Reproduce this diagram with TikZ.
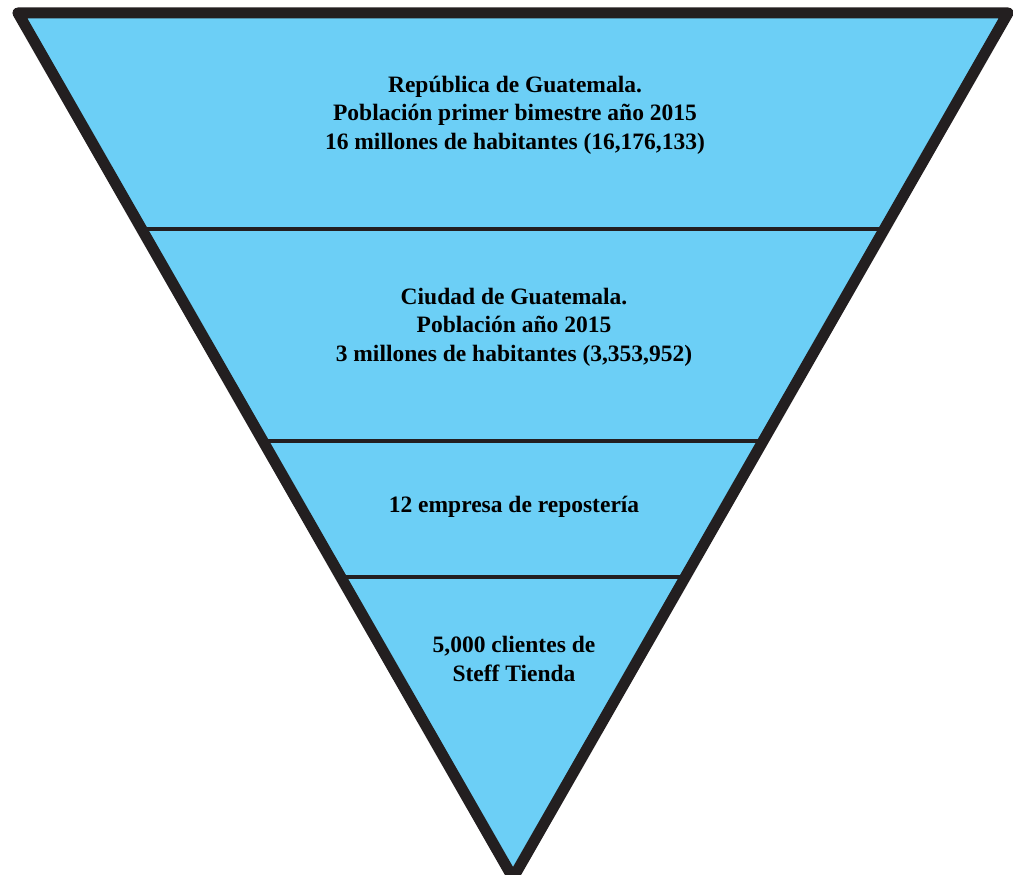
\documentclass[tikz,border=0pt]{standalone}
\usepackage{fontspec}
\setmainfont{Liberation Serif}
\usetikzlibrary{calc}
\definecolor{funnelfill}{HTML}{6CCFF6}
\definecolor{funnelline}{HTML}{231F20}
\begin{document}
\begin{tikzpicture}[x=1pt,y=-1pt,
  outline/.style={draw=funnelline,line width=11pt,line join=round},
  divider/.style={draw=funnelline,line width=4pt},
  label/.style={font=\bfseries\fontsize{23.5}{28.5}\selectfont,align=center,text=black}]
  \useasboundingbox (0,0) rectangle (1013,875);
  % corners of the inverted triangle
  \coordinate (tl) at (18,13);
  \coordinate (tr) at (1008,13);
  \coordinate (bot) at (513,878);
  \fill[funnelfill] (tl) -- (tr) -- (bot) -- cycle;
  % level dividers, placed on the sides by their height
  \foreach \yy/\nm in {229/a,441/b,577/c}{
    \pgfmathsetmacro{\tt}{(\yy-13)/(878-13)}
    \coordinate (\nm l) at ($(tl)!\tt!(bot)$);
    \coordinate (\nm r) at ($(tr)!\tt!(bot)$);
    \draw[divider] (\nm l) -- (\nm r);
  }
  \draw[outline] (tl) -- (tr) -- (bot) -- cycle;
  % texts of the levels
  \node[label] (lvla) at (515,115) {República de Guatemala.\\Población primer bimestre año 2015\\16 millones de habitantes (16,176,133)};
  \node[label] (lvlb) at (514,327) {Ciudad de Guatemala.\\Población año 2015\\3 millones de habitantes (3,353,952)};
  \node[label] (lvlc) at (514,507) {12 empresa de repostería};
  \node[label] (lvld) at (514,659) {5,000 clientes de\\Steff Tienda};
\end{tikzpicture}
\end{document}
